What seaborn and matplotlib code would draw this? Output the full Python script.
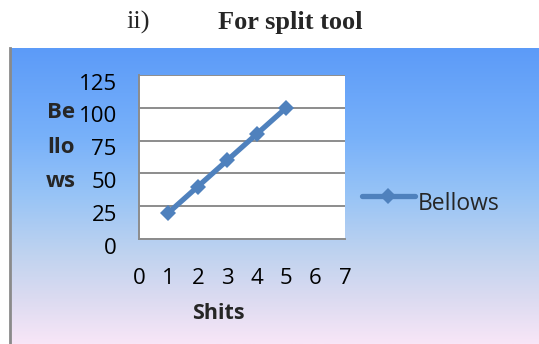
import matplotlib
matplotlib.use("Agg")
import matplotlib.pyplot as plt
import matplotlib.transforms as mtransforms
from matplotlib.colors import LinearSegmentedColormap
import numpy as np
import pandas as pd
import seaborn as sns

# ---- data ----
shits = [1, 2, 3, 4, 5]
bellows = [20, 40, 60, 80, 100]
x_ticks = [0, 1, 2, 3, 4, 5, 6, 7]
y_ticks = [0, 25, 50, 75, 100, 125]
series_name = "Bellows"
x_title = "Shits"
y_title_lines = ["Be", "llo", "ws"]
heading_num = "ii)"
heading_text = "For split tool"

sns.set_theme(style="white")
plt.rcParams['font.family'] = ['Open Sans', 'DejaVu Sans']

W, H = 539, 344
fig = plt.figure(figsize=(W / 100, H / 100), dpi=100)
fig.patch.set_facecolor('white')

def fx(px):
    return px / W

def fy(py):
    return 1 - py / H

# ---- gradient chart-area background ----
bg = fig.add_axes([fx(10), 0, 1 - fx(10), (H - 48) / H])
bg.set_zorder(0)
stops = [(0.0, '#5C9BF8'), (0.3, '#78B1FA'), (0.5, '#98C4F6'),
         (0.7, '#C0D3EF'), (0.85, '#DCDBF1'), (1.0, '#F8E6F7')]
cmap = LinearSegmentedColormap.from_list('g', stops)
grad = np.linspace(0, 1, 256).reshape(-1, 1)
bg.imshow(grad, aspect='auto', cmap=cmap, extent=[0, 1, 0, 1], origin='upper')
bg.set_xlim(0, 1)
bg.set_ylim(0, 1)
bg.set_xticks([])
bg.set_yticks([])
for s in ['top', 'right', 'bottom']:
    bg.spines[s].set_visible(False)
bg.spines['left'].set_color('#8A8A8A')
bg.spines['left'].set_linewidth(2)

# ---- plot area ----
ax = fig.add_axes([fx(139), fy(239), fx(345) - fx(139), fy(75) - fy(239)])
ax.set_zorder(2)
ax.set_facecolor('white')
df = pd.DataFrame({x_title: shits, series_name: bellows})
sns.lineplot(data=df, x=x_title, y=series_name, ax=ax, color='#4F81BD',
             linewidth=3.8, marker='D', markersize=8.5, markeredgewidth=0,
             label=series_name, zorder=3)
ax.set_xlim(0, 7)
ax.set_ylim(0, 125)
ax.set_xticks(x_ticks)
ax.set_yticks(y_ticks)
ax.set_xlabel("")
ax.set_ylabel("")
ax.grid(axis='y', color='#8C8C8C', linewidth=1.4)
ax.grid(axis='x', visible=False)
for s in ['top', 'right']:
    ax.spines[s].set_visible(False)
for s in ['left', 'bottom']:
    ax.spines[s].set_color('#8C8C8C')
    ax.spines[s].set_linewidth(1.4)
ax.tick_params(length=0, labelsize=16, colors='black')
ax.tick_params(axis='y', pad=16)
ax.tick_params(axis='x', pad=21)
off = mtransforms.ScaledTranslation(0, -0.065, fig.dpi_scale_trans)
for lbl in ax.get_yticklabels():
    lbl.set_transform(lbl.get_transform() + off)

# legend
leg = ax.legend(loc='center left', bbox_to_anchor=(fx(362), fy(198)),
                bbox_transform=fig.transFigure, frameon=False, fontsize=16.5,
                handlelength=2.3, handletextpad=0.15, borderaxespad=0,
                borderpad=0)
for t in leg.get_texts():
    t.set_transform(t.get_transform() + off)

# axis titles
fig.text(fx(218), fy(319), x_title, ha='center', va='baseline',
         fontsize=15.5, fontweight='bold')
for txt, base in zip(y_title_lines, [118, 153, 187]):
    fig.text(fx(61), fy(base), txt, ha='center', va='baseline',
             fontsize=16, fontweight='bold')

# heading
fig.text(fx(138), fy(29), heading_num, ha='center', va='baseline',
         fontsize=19, family='Liberation Serif')
fig.text(fx(290), fy(29), heading_text, ha='center', va='baseline',
         fontsize=19, family='Liberation Serif', fontweight='bold')

fig.savefig('out.png', dpi=100)
